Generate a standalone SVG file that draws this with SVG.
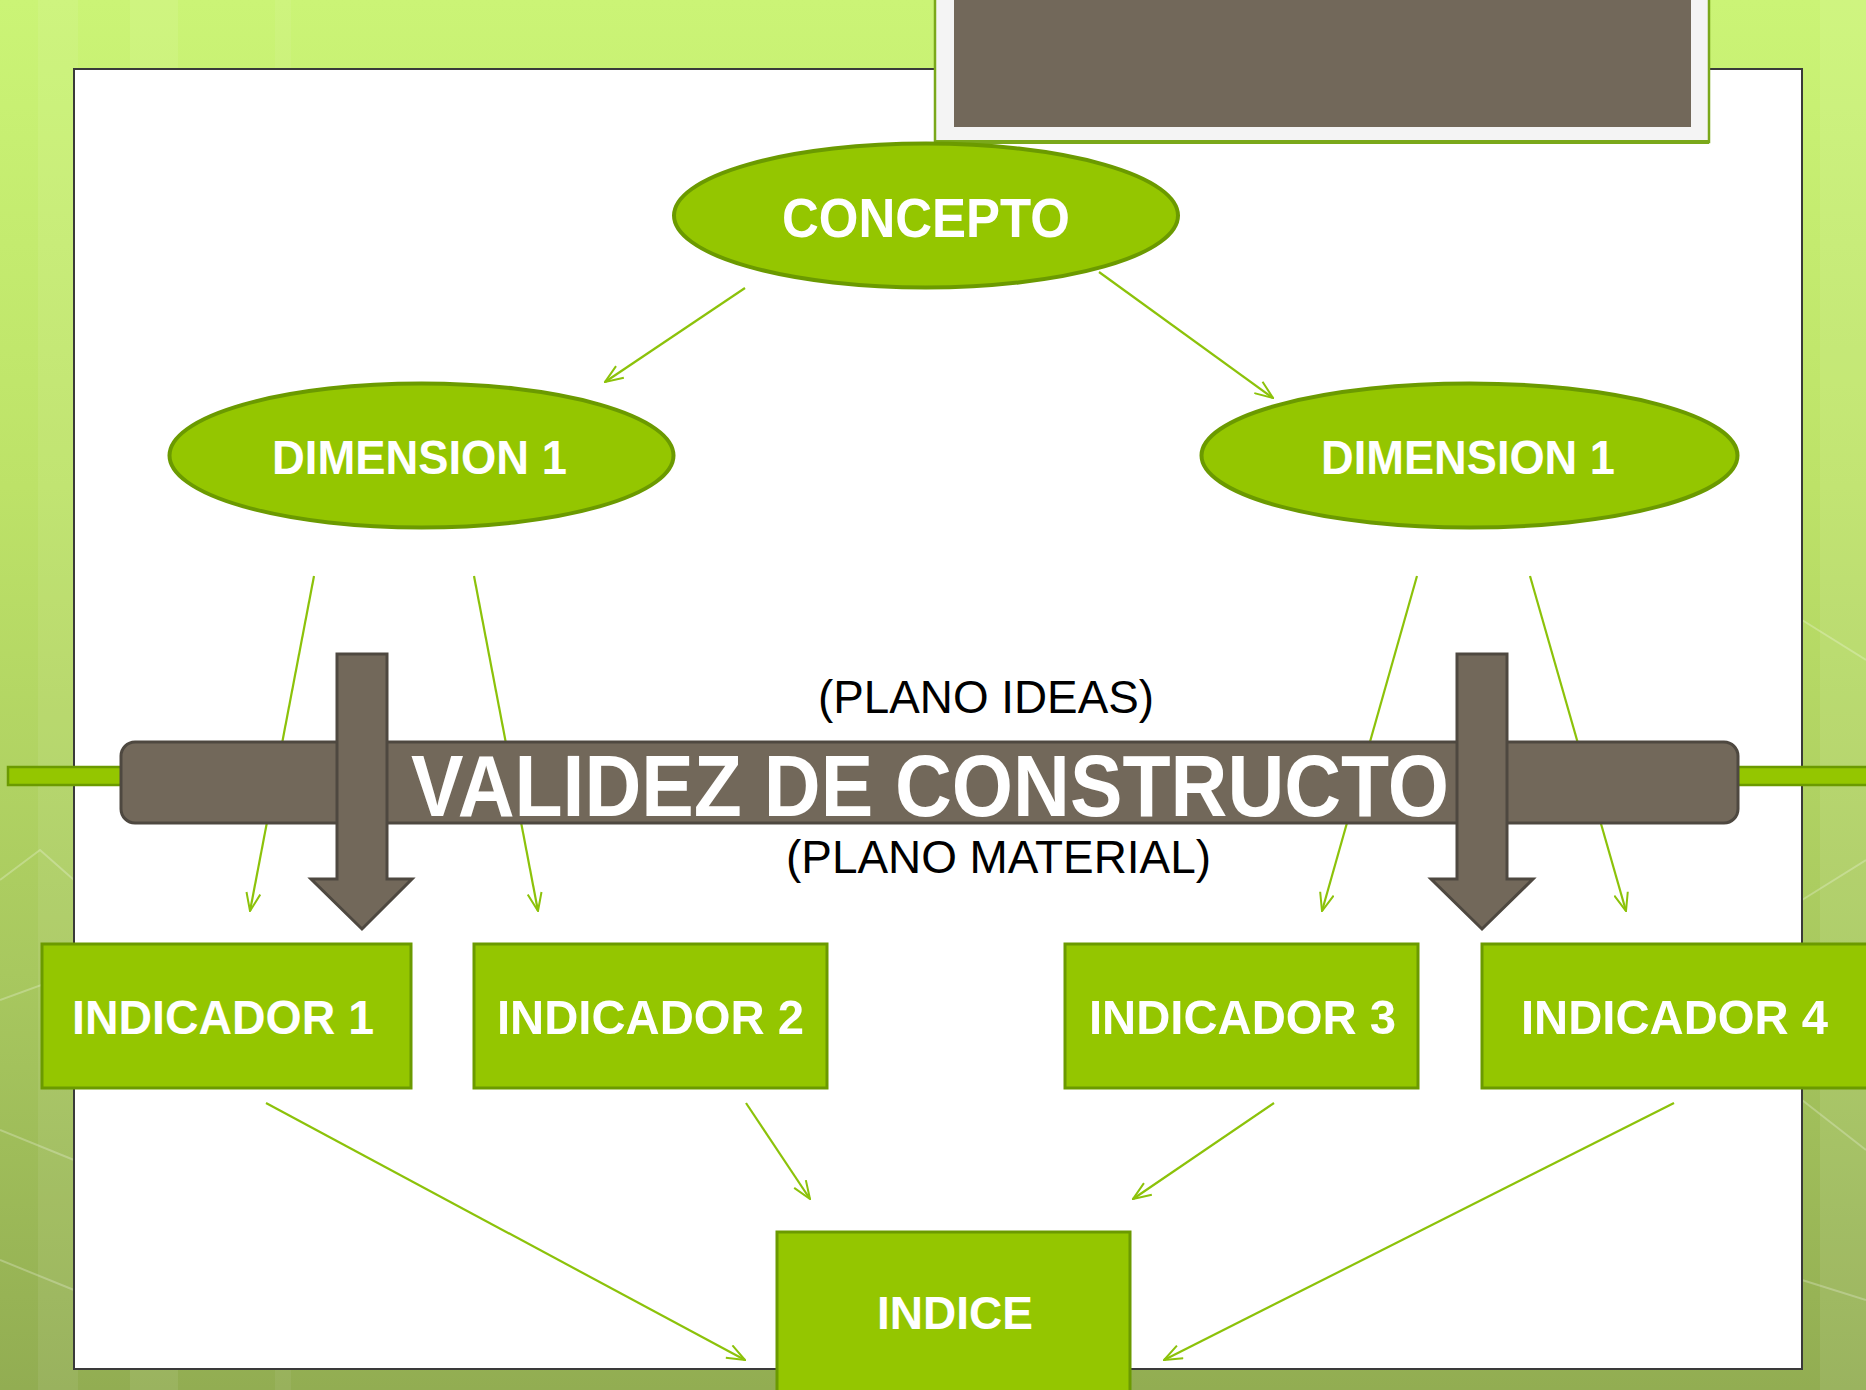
<svg xmlns="http://www.w3.org/2000/svg" width="1866" height="1390" viewBox="0 0 1866 1390">
<defs>
<linearGradient id="bg" x1="0" y1="0" x2="0" y2="1">
<stop offset="0" stop-color="#cbf476"/>
<stop offset="0.35" stop-color="#bde268"/>
<stop offset="0.7" stop-color="#a8c85f"/>
<stop offset="1" stop-color="#92ad52"/>
</linearGradient>
<marker id="ah" viewBox="0 0 20 16" refX="19" refY="8" markerWidth="20" markerHeight="16" markerUnits="userSpaceOnUse" orient="auto">
<path d="M1,1 L19,8 L1,15" fill="none" stroke="#8cc20a" stroke-width="2"/>
</marker>
<style>
.ell{fill:#94c600;stroke:#6b9a00;stroke-width:4}
.box{fill:#94c600;stroke:#6b9a00;stroke-width:3}
.lbl{font-family:"Liberation Sans",Arial,sans-serif;font-weight:bold;fill:#ffffff;text-anchor:middle}
.pl{font-family:"Liberation Sans",Arial,sans-serif;font-weight:normal;fill:#000000;text-anchor:middle;font-size:47px}
.con{stroke:#8cc20a;stroke-width:2.2;fill:none;marker-end:url(#ah)}
.big{fill:#72685a;stroke:#4e4840;stroke-width:3}
.hex{fill:none;stroke:#ffffff;stroke-opacity:0.25;stroke-width:2}
</style>
</defs>
<g id="background">
<rect x="0" y="0" width="1866" height="1390" fill="url(#bg)"/>
<rect x="38" y="0" width="40" height="1390" fill="#ffffff" fill-opacity="0.07"/>
<rect x="130" y="0" width="48" height="1390" fill="#ffffff" fill-opacity="0.08"/>
<rect x="275" y="0" width="16" height="1390" fill="#ffffff" fill-opacity="0.06"/>
<rect x="1820" y="0" width="46" height="1390" fill="#ffffff" fill-opacity="0.08"/>
<polyline class="hex" points="0,880 40,850 74,880"/>
<polyline class="hex" points="0,1000 55,980 74,985"/>
<polyline class="hex" points="0,1130 74,1160"/>
<polyline class="hex" points="0,1260 74,1290"/>
<polyline class="hex" points="1802,620 1866,660"/>
<polyline class="hex" points="1802,900 1866,860"/>
<polyline class="hex" points="1802,1100 1866,1150"/>
<polyline class="hex" points="1802,1280 1866,1300"/>
</g>
<g id="panel">
<rect x="74" y="69" width="1728" height="1300" fill="#ffffff" stroke="#3a3a3a" stroke-width="2"/>
</g>
<g id="title-box">
<rect x="935" y="-10" width="774" height="152" fill="#f4f4f4" stroke="#7aa81a" stroke-width="2.5"/>
<line x1="935" y1="142" x2="1709" y2="142" stroke="#7aa81a" stroke-width="4"/>
<rect x="954" y="0" width="737" height="127" fill="#72685a"/>
</g>
<g id="connectors">
<line class="con" x1="745" y1="288" x2="605" y2="382"/>
<line class="con" x1="1099" y1="272" x2="1273" y2="398"/>
<line class="con" x1="314" y1="576" x2="250" y2="911"/>
<line class="con" x1="474" y1="576" x2="538" y2="911"/>
<line class="con" x1="1417" y1="576" x2="1322" y2="911"/>
<line class="con" x1="1530" y1="576" x2="1626" y2="911"/>
<line class="con" x1="266" y1="1103" x2="745" y2="1360"/>
<line class="con" x1="746" y1="1103" x2="810" y2="1199"/>
<line class="con" x1="1274" y1="1103" x2="1133" y2="1199"/>
<line class="con" x1="1674" y1="1103" x2="1164" y2="1360"/>
</g>
<g id="concepto">
<ellipse class="ell" cx="926" cy="215.5" rx="252" ry="72"/>
<text class="lbl" x="926" y="237" font-size="56" textLength="288" lengthAdjust="spacingAndGlyphs">CONCEPTO</text>
</g>
<g id="dimension-left">
<ellipse class="ell" cx="421.5" cy="455.5" rx="252" ry="72"/>
<text class="lbl" x="419.5" y="474" font-size="49" textLength="295" lengthAdjust="spacingAndGlyphs">DIMENSION 1</text>
</g>
<g id="dimension-right">
<ellipse class="ell" cx="1469.5" cy="455.5" rx="268" ry="72"/>
<text class="lbl" x="1468" y="474" font-size="49" textLength="294" lengthAdjust="spacingAndGlyphs">DIMENSION 1</text>
</g>
<g id="validez">
<rect x="8" y="767" width="1870" height="18" fill="#94c600" stroke="#6b9a00" stroke-width="2.5"/>
<rect class="big" x="121" y="742" width="1617" height="81" rx="14" ry="14"/>
<text class="lbl" x="930" y="816" font-size="88" textLength="1038" lengthAdjust="spacingAndGlyphs">VALIDEZ DE CONSTRUCTO</text>
</g>
<g id="arrow-left">
<polygon class="big" points="337,654 387,654 387,879 412,879 362,929 311,879 337,879"/>
</g>
<g id="arrow-right">
<polygon class="big" points="1457,654 1507,654 1507,879 1533,879 1482,929 1431,879 1457,879"/>
</g>
<g id="plano-ideas">
<text class="pl" x="986" y="713" textLength="336" lengthAdjust="spacingAndGlyphs">(PLANO IDEAS)</text>
</g>
<g id="plano-material">
<text class="pl" x="998.5" y="873" textLength="425" lengthAdjust="spacingAndGlyphs">(PLANO MATERIAL)</text>
</g>
<g id="indicador-1">
<rect class="box" x="42" y="944" width="369" height="144"/>
<text class="lbl" x="223" y="1034" font-size="49" textLength="302" lengthAdjust="spacingAndGlyphs">INDICADOR 1</text>
</g>
<g id="indicador-2">
<rect class="box" x="474" y="944" width="353" height="144"/>
<text class="lbl" x="650.5" y="1034" font-size="49" textLength="307" lengthAdjust="spacingAndGlyphs">INDICADOR 2</text>
</g>
<g id="indicador-3">
<rect class="box" x="1065" y="944" width="353" height="144"/>
<text class="lbl" x="1242.5" y="1034" font-size="49" textLength="307" lengthAdjust="spacingAndGlyphs">INDICADOR 3</text>
</g>
<g id="indicador-4">
<rect class="box" x="1482" y="944" width="390" height="144"/>
<text class="lbl" x="1674.5" y="1034" font-size="49" textLength="307" lengthAdjust="spacingAndGlyphs">INDICADOR 4</text>
</g>
<g id="indice">
<rect class="box" x="777" y="1232" width="353" height="170"/>
<text class="lbl" x="955" y="1329" font-size="46" textLength="156" lengthAdjust="spacingAndGlyphs">INDICE</text>
</g>
</svg>
